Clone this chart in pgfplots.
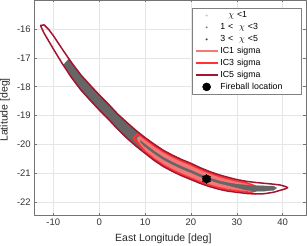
\documentclass[border=0pt]{standalone}
\usepackage{pgfplots}
\pgfplotsset{compat=1.18}
\usepackage{fontspec}
\setmainfont{Liberation Sans}
\definecolor{icfive}{rgb}{0.635,0.078,0.184}
\definecolor{icthree}{rgb}{1,0.2,0.2}
\definecolor{icone}{rgb}{0.96,0.47,0.47}
\definecolor{band}{rgb}{0.4,0.4,0.4}
\begin{document}
\begin{tikzpicture}
\begin{axis}[name=ax, scale only axis, width=271.7pt, height=215.7pt,
 xmin=-14.14, xmax=45.08, ymin=-22.46, ymax=-15,
 xtick={-10,0,...,40}, ytick={-22,-21,...,-16},
 grid=major, major grid style={draw=black!10, line width=0.5pt},
 axis line style={draw=black!55, line width=0.6pt},
 tick style={draw=black!55, line width=0.5pt}, tick align=inside, major tick length=2.5pt,
 ticklabel style={font=\fontsize{9.5}{11}\selectfont, text=black!80},
 /pgf/number format/assume math mode=true,
 xlabel={East Longitude [deg]}, ylabel={Latitude [deg]},
 label style={font=\fontsize{10.5}{12}\selectfont, text=black!85},
 xlabel style={at={(axis description cs:0.475,-0.1048)}, anchor=center},
 ylabel style={at={(axis description cs:-0.108,0.49)}, anchor=center},
 legend style={at={(0.984,0.9615)}, anchor=north east, draw=black!50, fill=white, line width=0.5pt,
   font=\fontsize{8.8}{10}\selectfont, inner xsep=3pt, inner ysep=1pt, row sep=0pt,
   nodes={inner ysep=1.75pt, inner xsep=2pt, text height=6.5pt, text depth=1.9pt, text width=76pt}},
 legend cell align=left,
 legend image code/.code={\draw[mark repeat=2,mark phase=2,#1] plot coordinates {(0pt,0pt) (11pt,0pt) (22pt,0pt)};},
 line join=round,
]
\addlegendimage{only marks, mark=*, mark size=0.8pt, color=black!22}
\addlegendentry{\hspace{8pt}$\chi$ <1}
\addlegendimage{only marks, mark=*, mark size=0.8pt, color=black!45}
\addlegendentry{1 <\ \ $\chi$ <3}
\addlegendimage{only marks, mark=*, mark size=0.8pt, color=black!70}
\addlegendentry{3 <\ \ $\chi$ <5}
\addlegendimage{icone, line width=1.5pt}
\addlegendentry{IC1 sigma}
\addlegendimage{icthree, line width=1.5pt}
\addlegendentry{IC3 sigma}
\addlegendimage{icfive, line width=1.5pt}
\addlegendentry{IC5 sigma}
\addlegendimage{only marks, mark=*, mark size=4pt, black}
\addlegendentry{Fireball location}

% gray chi points region (left, full band)
\addplot[forget plot, fill=band, draw=band, line width=0.3pt] coordinates {
(-6.6,-17.03) (-6,-17.17) (-4,-17.59) (-2,-17.94) (0,-18.28) (2,-18.60) (4,-18.94) (6,-19.23) (8,-19.51) (9.5,-19.70)
(9.5,-20.24) (8,-20.05) (6,-19.77) (4,-19.46) (2,-19.12) (0,-18.80) (-2,-18.46) (-4,-18.11) (-6,-17.69) (-7.8,-17.25)
} -- cycle;

% IC1 (salmon fill)
\addplot[forget plot, fill=icone, draw=icone, line width=1pt] coordinates {
(8.3,-19.78) (9,-19.72) (10,-19.85) (12,-20.08) (14,-20.29) (16,-20.46) (18,-20.61) (20,-20.74) (22,-20.89) (24,-21.02) (26,-21.13) (28,-21.22) (30,-21.30) (32,-21.36) (33.5,-21.44) (34.3,-21.52)
(33.6,-21.58) (33,-21.61) (32,-21.60) (30,-21.56) (28,-21.52) (26,-21.45) (24,-21.36) (22,-21.25) (20,-21.12) (18,-20.99) (16,-20.84) (14,-20.67) (12,-20.46) (10,-20.20) (9,-20.0)
} -- cycle;

% IC3
\addplot[forget plot, draw=icthree, line width=1.7pt] coordinates {
(7.44,-19.78) (8.5,-19.62) (10,-19.81) (12,-20.04) (14,-20.25) (16,-20.42) (18,-20.57) (20,-20.70) (22,-20.85) (24,-20.98) (26,-21.09) (28,-21.18) (30,-21.26) (32,-21.32) (33.5,-21.40) (34.8,-21.52)
(34,-21.61) (33,-21.65) (32,-21.64) (30,-21.60) (28,-21.56) (26,-21.49) (24,-21.40) (22,-21.29) (20,-21.16) (18,-21.03) (16,-20.88) (14,-20.71) (12,-20.50) (10,-20.24) (8.5,-19.95)
} -- cycle;

% gray chi points strip (centre)
\addplot[forget plot, fill=band, draw=band, line width=0.3pt] coordinates {
(9,-19.86) (10,-19.99) (12,-20.23) (14,-20.44) (16,-20.61) (18,-20.76) (20,-20.89) (22,-21.03) (24,-21.15) (26,-21.25) (28,-21.32) (30,-21.37) (32,-21.40) (34,-21.42) (36,-21.43) (38,-21.44) (38.7,-21.50)
(38,-21.58) (36,-21.61) (34,-21.61) (32,-21.57) (30,-21.49) (28,-21.41) (26,-21.33) (24,-21.23) (22,-21.11) (20,-20.97) (18,-20.84) (16,-20.69) (14,-20.52) (12,-20.31) (10,-20.07) (9,-19.92)
} -- cycle;

% IC5
\addplot[forget plot, draw=icfive, line width=1.5pt] coordinates {
(-12.75,-15.88) (-12.0,-15.86) (-11,-16.02) (-10,-16.23) (-8,-16.71) (-6,-17.17) (-4,-17.59) (-2,-17.94) (0,-18.28) (2,-18.60) (4,-18.94) (6,-19.23) (8,-19.51) (10,-19.76) (12,-19.99) (14,-20.20) (16,-20.37) (18,-20.52) (20,-20.65) (22,-20.80) (24,-20.93) (26,-21.04) (28,-21.13) (30,-21.21) (32,-21.27) (34,-21.31) (36,-21.34) (38,-21.37) (39.5,-21.40) (40.6,-21.45) (41.1,-21.49)
(40.6,-21.53) (39.5,-21.58) (38,-21.65) (36,-21.70) (34,-21.71) (32,-21.69) (30,-21.65) (28,-21.61) (26,-21.54) (24,-21.45) (22,-21.34) (20,-21.21) (18,-21.08) (16,-20.93) (14,-20.76) (12,-20.55) (10,-20.30) (8,-20.05) (6,-19.77) (4,-19.46) (2,-19.12) (0,-18.80) (-2,-18.46) (-4,-18.11) (-6,-17.69) (-8,-17.21) (-10,-16.69) (-11,-16.42) (-12,-16.15) (-12.6,-15.95)
} -- cycle;

% fireball
\addplot[forget plot, only marks, mark=*, mark size=4.1pt, black] coordinates {(23.4,-21.19)};
\addplot[forget plot, only marks, mark=asterisk, mark size=4.9pt, line width=0.9pt, black] coordinates {(23.4,-21.19)};
\end{axis}
\pgfresetboundingbox
\path ([shift={(-34.3pt,-30.3pt)}]ax.south west) rectangle ([shift={(1pt,0pt)}]ax.north east);
\end{tikzpicture}
\end{document}
